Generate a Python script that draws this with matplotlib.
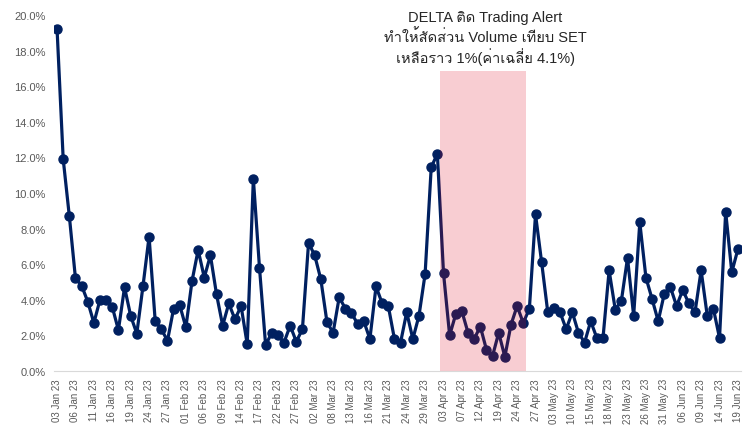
import numpy as np
import pandas as pd
import matplotlib
matplotlib.use("Agg")
import matplotlib.pyplot as plt
from matplotlib import font_manager
from matplotlib.ft2font import FT2Font

# Data: DELTA share of SET trading volume (%), SET trading days 03 Jan - 19 Jun 2023
holidays = ["2023-03-06", "2023-04-06", "2023-04-13", "2023-04-14",
            "2023-05-01", "2023-05-04", "2023-05-05", "2023-06-05"]
dates = pd.bdate_range("2023-01-03", "2023-06-19", freq="C", holidays=holidays)
volume_share = [
    19.2, 11.9, 8.7, 5.2, 4.8, 3.9, 2.7, 4.0, 4.0, 3.6,
    2.3, 4.7, 3.1, 2.1, 4.75, 7.55, 2.8, 2.35, 1.7, 3.5,
    3.7, 2.45, 5.05, 6.8, 5.25, 6.5, 4.3, 2.55, 3.8, 2.9,
    3.65, 1.5, 10.8, 5.8, 1.45, 2.15, 2.0, 1.6, 2.55, 1.65,
    2.35, 7.2, 6.5, 5.15, 2.75, 2.15, 4.15, 3.5, 3.25, 2.65,
    2.8, 1.8, 4.75, 3.8, 3.65, 1.8, 1.6, 3.3, 1.8, 3.1,
    5.45, 11.45, 12.2, 5.5, 2.0, 3.2, 3.35, 2.15, 1.8, 2.5,
    1.2, 0.85, 2.15, 0.8, 2.6, 3.65, 2.7, 3.5, 8.8, 6.1,
    3.3, 3.55, 3.3, 2.35, 3.3, 2.15, 1.6, 2.8, 1.85, 1.85,
    5.65, 3.45, 3.95, 6.35, 3.1, 8.35, 5.25, 4.05, 2.8, 4.35,
    4.7, 3.65, 4.55, 3.8, 3.3, 5.65, 3.1, 3.5, 1.85, 8.95,
    5.55, 6.85,
]
alert_start, alert_end = "2023-04-03", "2023-04-25"
alert_top = 16.85
note_lines = ["DELTA ติด Trading Alert",
              "ทำให้สัดส่วน Volume เทียบ SET",
              "เหลือราว 1%(ค่าเฉลี่ย 4.1%)"]
note_y = [19.9, 18.8, 17.7]

# find an installed family that can draw Thai
thai_family = None
for f in font_manager.fontManager.ttflist:
    try:
        if 0x0E17 in FT2Font(f.fname).get_charmap():
            thai_family = f.name
            break
    except Exception:
        pass
families = ["Liberation Sans"] + ([thai_family] if thai_family else []) + ["DejaVu Sans"]
plt.rcParams["font.family"] = families

x = np.arange(len(dates))
i0 = dates.get_loc(pd.Timestamp(alert_start))
i1 = dates.get_loc(pd.Timestamp(alert_end))

fig = plt.figure(figsize=(7.48, 4.27), dpi=100)
ax = fig.add_axes([54 / 748, 55 / 427, 687 / 748, 356 / 427])

ax.plot(x, volume_share, color="#002060", lw=2.3, marker="o", ms=6.5, zorder=2)
ax.fill_between([i0 - 0.5, i1 + 0.5], 0, alert_top, color="#dc051e", alpha=0.2,
                lw=0, zorder=3)

ax.set_xlim(-0.5, len(x) - 0.5)
ax.set_ylim(0, 20)
ax.set_yticks(np.arange(0, 20.1, 2))
ax.set_yticklabels([f"{v:.1f}%" for v in np.arange(0, 20.1, 2)])
ax.set_xticks(x[::3])
ax.set_xticklabels([d.strftime("%d %b %y") for d in dates[::3]], rotation=90)
ax.tick_params(axis="y", length=0, labelsize=8, colors="#595959", pad=6)
ax.tick_params(axis="x", length=0, labelsize=7, colors="#595959", pad=5)
for s in ["top", "right", "left"]:
    ax.spines[s].set_visible(False)
ax.spines["bottom"].set_color("#d9d9d9")

for line, yy in zip(note_lines, note_y):
    ax.text((i0 + i1) / 2 + 0.3, yy, line, ha="center", va="center",
            fontsize=10.5, color="#262626", clip_on=False)

fig.savefig("out.png", dpi=100)
